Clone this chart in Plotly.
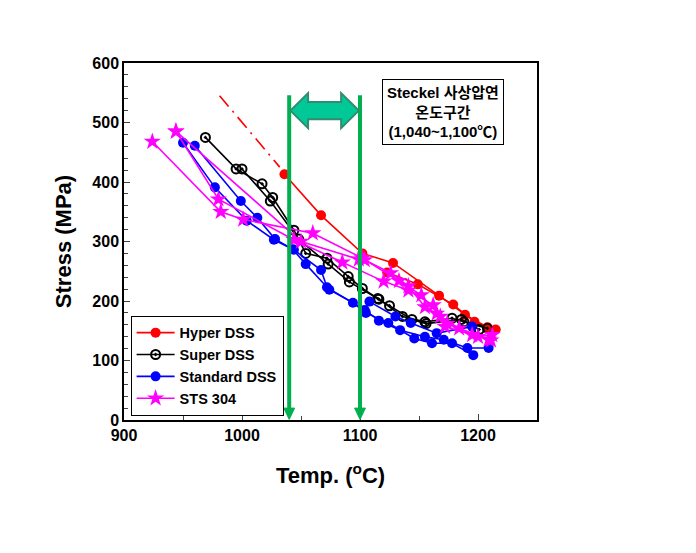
import plotly.graph_objects as go

# ---------------- data ----------------
hyper_runs = [
    ([1036, 1067, 1102, 1128, 1167, 1189, 1208], [413, 344, 280, 264, 209, 177, 156]),
    ([1123, 1149, 1179, 1197, 1215], [248, 228, 194, 165, 152]),
]
hyper_extrap_x = [981, 1032]
hyper_extrap_y = [545, 425]

super_runs = [
    ([969, 995, 1017, 1026, 1044, 1054, 1072, 1090, 1102, 1116, 1136, 1155, 1178, 1188, 1208],
     [475, 422, 397, 374, 319, 280, 272, 241, 221, 203, 174, 165, 171, 165, 154]),
    ([1000, 1024, 1048, 1073, 1091, 1115, 1125, 1144, 1156, 1186, 1201],
     [422, 368, 304, 262, 232, 204, 192, 169, 162, 169, 152]),
]

standard_runs = [
    ([950, 977, 1004, 1027, 1043, 1054, 1074, 1094, 1105, 1124, 1146, 1161, 1178, 1196],
     [466, 391, 335, 303, 287, 262, 219, 197, 180, 163, 137, 129, 129, 109]),
    ([960, 999, 1013, 1028, 1044, 1067, 1072, 1104, 1116, 1134, 1155, 1171, 1191, 1209],
     [461, 368, 340, 304, 286, 252, 223, 185, 167, 151, 140, 135, 121, 121]),
    ([1108, 1130, 1143, 1165, 1195], [199, 174, 163, 146, 157]),
]

sts_runs = [
    ([924, 982, 1001, 1060, 1102, 1133, 1152, 1168, 1184, 1209],
     [468, 350, 337, 314, 272, 234, 210, 174, 154, 135]),
    ([944, 980, 1044, 1085, 1120, 1141, 1162, 1174, 1200, 1212],
     [485, 371, 303, 265, 233, 218, 193, 162, 140, 143]),
    ([944, 1050, 1099, 1104, 1126, 1141, 1155, 1165, 1172, 1195, 1211],
     [485, 300, 270, 269, 247, 225, 190, 179, 157, 143, 134]),
]

x_ticks = [900, 1000, 1100, 1200]
y_ticks = [0, 100, 200, 300, 400, 500, 600]
window_lo, window_hi = 1040, 1100
box_text = "Steckel 사상압연<br>온도구간<br>(1,040~1,100℃)"

# ---------------- figure ----------------
fig = go.Figure()

series = [
    ("Hyper DSS", hyper_runs, "rgb(255,0,0)", dict(symbol="circle", size=10, color="rgb(255,0,0)")),
    ("Super DSS", super_runs, "black",
     dict(symbol="circle-open-dot", size=9, color="black", line=dict(width=2, color="black"))),
    ("Standard DSS", standard_runs, "rgb(0,0,255)", dict(symbol="circle", size=10, color="rgb(0,0,255)")),
    ("STS 304", sts_runs, "rgb(255,0,255)", dict(symbol="star", size=13, color="rgb(255,0,255)",
                                                 line=dict(width=0))),
]

for name, runs, col, mk in series:
    for i, (xs, ys) in enumerate(runs):
        fig.add_trace(go.Scatter(
            x=xs, y=ys, mode="lines+markers", name=name,
            legendgroup=name, showlegend=(i == 0),
            line=dict(color=col, width=1.6), marker=mk,
        ))
    if name == "Hyper DSS":
        fig.add_trace(go.Scatter(
            x=hyper_extrap_x, y=hyper_extrap_y, mode="lines", showlegend=False,
            line=dict(color="rgb(255,0,0)", width=1.6, dash="14px,6px,2px,6px"),
        ))

green = "rgb(0,176,80)"
shapes = []
for xv in (window_lo, window_hi):
    shapes.append(dict(type="line", xref="x", yref="y", x0=xv, x1=xv, y0=546, y1=18,
                       line=dict(color=green, width=4)))
    shapes.append(dict(type="path", xref="x", yref="y",
                       path=f"M {xv-4.6},{20} L {xv+4.6},{20} L {xv},{1} Z",
                       fillcolor=green, line=dict(color=green, width=1)))

# double arrow between the window limits
a0, a1 = window_lo + 1, window_hi - 1
h = 15
p = (f"M {a0},520 L {a0+h},549.5 L {a0+h},534.5 L {a1-h},534.5 L {a1-h},549.5 "
     f"L {a1},520 L {a1-h},490.5 L {a1-h},505.5 L {a0+h},505.5 L {a0+h},490.5 Z")
shapes.append(dict(type="path", xref="x", yref="y", path=p,
                   fillcolor="rgb(0,200,150)", line=dict(color="rgb(50,140,110)", width=2)))

# page body adds an 8px offset, so margins are shifted to compensate
fig.update_layout(
    shapes=shapes,
    width=696, height=553,
    margin=dict(l=116, r=167, t=55, b=141),
    paper_bgcolor="white", plot_bgcolor="white",
    font=dict(family="Liberation Sans, Arial, Noto Sans CJK KR", color="black"),
    showlegend=True,
    legend=dict(x=0.016, y=0.012, xanchor="left", yanchor="bottom",
                bgcolor="white", bordercolor="black", borderwidth=1,
                font=dict(size=14.5, family="Liberation Sans, Arial", weight="bold"),
                tracegroupgap=0, itemwidth=38),
    annotations=[dict(
        x=1170, y=517, xref="x", yref="y", text=box_text, showarrow=False,
        font=dict(size=15, family="Liberation Sans, Noto Sans CJK KR", color="black",
                  weight="bold"),
        bordercolor="black", borderwidth=1, borderpad=4, bgcolor="white",
        align="center",
    )],
)

fig.update_xaxes(
    range=[900, 1250], tickvals=x_ticks, ticks="inside", ticklen=6, tickwidth=1,
    minor=dict(dtick=50, ticks="inside", ticklen=4, tickwidth=1, tick0=900),
    showline=True, linecolor="black", linewidth=1.5, mirror=True, showgrid=False, zeroline=False,
    tickfont=dict(size=16, family="Liberation Sans, Arial", weight="bold"),
    title=dict(text="Temp. (<sup>o</sup>C)", standoff=25,
               font=dict(size=22, family="Liberation Sans, Arial", weight="bold")),
)
fig.update_yaxes(
    range=[0, 600], tickvals=y_ticks, ticks="inside", ticklen=6, tickwidth=1,
    minor=dict(dtick=20, ticks="inside", ticklen=4, tickwidth=1, tick0=0),
    showline=True, linecolor="black", linewidth=1.5, mirror=True, showgrid=False, zeroline=False,
    tickfont=dict(size=16, family="Liberation Sans, Arial", weight="bold"),
    title=dict(text="Stress (MPa)", standoff=15,
               font=dict(size=22, family="Liberation Sans, Arial", weight="bold")),
)

fig.write_html("out.html")
